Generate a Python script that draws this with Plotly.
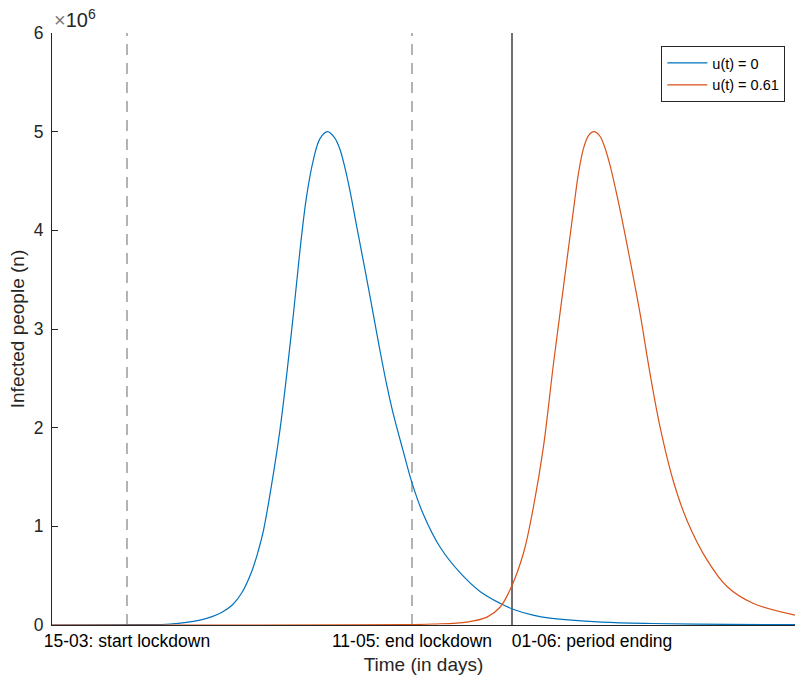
import plotly.graph_objects as go

# Epidemic curves (time in days, infected people)
days_u0 = [0, 10, 18, 23.6, 29.6, 32.0, 34.0, 36.0, 38.0, 40.0, 41.3, 42.3, 44.3,
           45.6, 46.9, 48.3, 49.6, 50.9, 52.3, 53.6, 55.1, 56.5, 57.6, 58.6, 59.6,
           60.9, 62.3, 63.6, 65.6, 67.0, 68.2, 70.2, 72.0, 74.2, 77.6, 81.6, 85.6,
           89.6, 92.2, 96.2, 99.6, 110, 120, 135, 148.6]
infected_u0 = [0, 1e3, 4e3, 1.0e4, 5.0e4, 8.5e4, 1.3e5, 2.0e5, 3.3e5, 5.5e5, 7.6e5,
               9.6e5, 1.54e6, 1.98e6, 2.52e6, 3.16e6, 3.80e6, 4.34e6, 4.72e6, 4.93e6,
               5.0e6, 4.94e6, 4.82e6, 4.63e6, 4.40e6, 4.05e6, 3.68e6, 3.33e6, 2.78e6,
               2.42e6, 2.15e6, 1.77e6, 1.44e6, 1.13e6, 7.9e5, 5.3e5, 3.4e5, 2.2e5,
               1.6e5, 1.0e5, 7.0e4, 3.0e4, 1.5e4, 6e3, 3e3]

days_u061 = [0, 40, 60, 70, 76.2, 83.0, 87.0, 89.6, 91.6, 94.3, 96.3, 98.3, 100.3,
             102.3, 104.3, 105.3, 106.3, 107.3, 108.4, 109.5, 110.5, 111.6, 113.6,
             115.6, 117.6, 119.6, 121.6, 124.2, 127.0, 131.0, 135.0, 140.2, 148.6]
infected_u061 = [0, 0, 5e2, 3e3, 1.0e4, 3.0e4, 8.0e4, 1.8e5, 3.55e5, 7.3e5, 1.20e6,
                 1.81e6, 2.65e6, 3.43e6, 4.21e6, 4.58e6, 4.83e6, 4.96e6, 5.0e6, 4.96e6,
                 4.85e6, 4.66e6, 4.21e6, 3.70e6, 3.16e6, 2.55e6, 2.01e6, 1.47e6,
                 1.06e6, 6.6e5, 3.9e5, 2.2e5, 1.0e5]

# Key dates (day index) and their labels
lockdown_start = 15
lockdown_end = 72
period_end = 92
xtick_vals = [15, 72, 108]
xtick_text = ["15-03: start lockdown", "11-05: end lockdown", "01-06: period ending"]

ytick_vals = [0, 1e6, 2e6, 3e6, 4e6, 5e6, 6e6]
ytick_text = ["0", "1", "2", "3", "4", "5", "6"]

FONT = "Liberation Sans, Helvetica, Arial, sans-serif"
AXIS_COLOR = "#262626"

fig = go.Figure()
fig.add_trace(go.Scatter(
    x=days_u0, y=infected_u0, mode="lines", name="u(t) = 0",
    line=dict(color="#0072BD", width=1.2, shape="spline", smoothing=1.0),
))
fig.add_trace(go.Scatter(
    x=days_u061, y=infected_u061, mode="lines", name="u(t) = 0.61",
    line=dict(color="#D95319", width=1.2, shape="spline", smoothing=1.0),
))

# Lockdown markers (dashed) and end of the studied period (solid)
for d in (lockdown_start, lockdown_end):
    fig.add_shape(type="line", xref="x", yref="y", x0=d, x1=d, y0=0, y1=6e6,
                  line=dict(color="#9a9a9a", width=1.5, dash="11px,8px"), layer="below")
fig.add_shape(type="line", xref="x", yref="y", x0=period_end, x1=period_end,
              y0=0, y1=6e6, line=dict(color="#707070", width=2), layer="below")

# Exponent label of the y axis
fig.add_annotation(x=0, y=1, xref="paper", yref="paper", xanchor="left", yanchor="bottom",
                   xshift=0, yshift=0, showarrow=False,
                   text="<span style='color:#7a7a7a'>×</span>10<sup>6</sup>",
                   font=dict(family=FONT, size=20, color=AXIS_COLOR))

fig.update_layout(
    width=795, height=675,
    margin=dict(l=52, r=0, t=33, b=50),
    paper_bgcolor="white", plot_bgcolor="white",
    font=dict(family=FONT, size=17, color=AXIS_COLOR),
    showlegend=True,
    legend=dict(x=0.987, y=0.978, xanchor="right", yanchor="top",
                bordercolor="#262626", borderwidth=1, bgcolor="white",
                font=dict(family=FONT, size=14.5, color="black"),
                tracegroupgap=0, itemwidth=40),
    xaxis=dict(
        range=[0, 148.6], showgrid=False, zeroline=False,
        showline=True, linecolor=AXIS_COLOR, linewidth=1,
        tickmode="array", tickvals=xtick_vals, ticktext=xtick_text,
        ticks="", tickfont=dict(size=17.5, color="black"),
        title=dict(text="Time (in days)", font=dict(size=19, color=AXIS_COLOR), standoff=8),
    ),
    yaxis=dict(
        range=[0, 6e6], showgrid=False, zeroline=False,
        showline=True, linecolor=AXIS_COLOR, linewidth=1,
        tickmode="array", tickvals=ytick_vals, ticktext=ytick_text,
        ticks="inside", ticklen=6, tickcolor=AXIS_COLOR,
        tickfont=dict(size=17.5, color=AXIS_COLOR), ticklabelstandoff=4,
        title=dict(text="Infected people (n)", font=dict(size=19, color=AXIS_COLOR), standoff=4),
    ),
)

fig.write_html("out.html")
